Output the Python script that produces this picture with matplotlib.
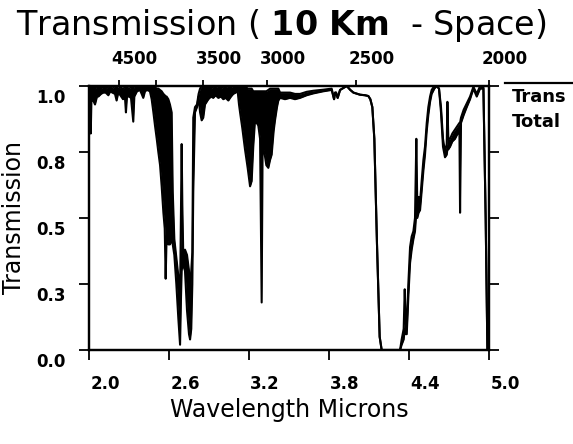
import matplotlib
matplotlib.use("Agg")
import matplotlib.pyplot as plt
from matplotlib.lines import Line2D
from matplotlib.transforms import ScaledTranslation

plt.rcParams['font.family'] = 'DejaVu Sans'
plt.rcParams['mathtext.fontset'] = 'dejavusans'

# wavelength (microns), transmission line, lower edge of the dense line band
wl = [2.000, 2.008, 2.013, 2.018, 2.028, 2.045, 2.060, 2.070, 2.090, 2.107,
      2.125, 2.145, 2.160, 2.175, 2.195, 2.207, 2.220, 2.235, 2.255, 2.270,
      2.277, 2.285, 2.300, 2.315, 2.332, 2.340, 2.360, 2.382, 2.395, 2.407,
      2.420, 2.435, 2.457,
      2.470, 2.483, 2.495, 2.508, 2.520, 2.533, 2.545, 2.558, 2.568, 2.575,
      2.582, 2.595, 2.607, 2.620, 2.628, 2.640, 2.655, 2.670, 2.683, 2.690,
      2.695, 2.700, 2.707, 2.720, 2.735, 2.750, 2.758, 2.767, 2.775, 2.782,
      2.795, 2.810, 2.822,
      2.833, 2.845, 2.857, 2.870, 2.895, 2.915, 2.932, 2.950, 2.970, 2.990,
      3.007, 3.025, 3.045, 3.065, 3.082, 3.100, 3.115,
      3.125, 3.133, 3.150, 3.170, 3.190, 3.208, 3.220, 3.232, 3.245, 3.258,
      3.270, 3.283, 3.295, 3.302, 3.315, 3.330, 3.345, 3.358, 3.370, 3.385,
      3.395, 3.410, 3.420,
      3.433, 3.470, 3.508, 3.545, 3.583, 3.633, 3.683, 3.720, 3.758, 3.820,
      3.838, 3.846, 3.853, 3.865, 3.883, 3.933, 3.960, 3.983, 4.033, 4.070,
      4.095, 4.110, 4.125, 4.140, 4.160, 4.180, 4.195,
      4.333,
      4.345, 4.360, 4.368, 4.376, 4.383, 4.395, 4.408, 4.420, 4.433, 4.445,
      4.455, 4.462, 4.472, 4.483, 4.495, 4.508, 4.520, 4.533, 4.545, 4.558,
      4.570, 4.590, 4.608, 4.625, 4.640, 4.655, 4.670, 4.683, 4.688, 4.695,
      4.708, 4.725, 4.745, 4.765, 4.778, 4.783, 4.790, 4.810, 4.833, 4.858,
      4.883, 4.908, 4.933, 4.958, 4.975, 4.988]

trans = [1.00, 1.00, 0.99, 1.00, 1.00, 0.99, 1.00, 1.00, 0.99, 1.00,
         0.99, 1.00, 0.995, 0.99, 1.00, 0.995, 0.99, 0.995, 0.99, 0.995,
         0.99, 0.995, 0.99, 0.995, 0.99, 1.00, 1.00, 1.00, 1.00, 1.00,
         1.00, 1.00, 1.00,
         1.00, 1.00, 0.995, 0.99, 0.99, 0.985, 0.98, 0.97, 0.965, 0.96,
         0.96, 0.95, 0.93, 0.90, 0.60, 0.42, 0.35, 0.28, 0.20, 0.55,
         0.78, 0.55, 0.36, 0.38, 0.36, 0.30, 0.20, 0.30, 0.37, 0.88,
         0.92, 0.93, 0.97,
         0.99, 1.00, 1.00, 1.00, 1.00, 0.99, 1.00, 0.995, 1.00, 0.99,
         1.00, 0.995, 1.00, 0.995, 1.00, 1.00, 1.00,
         1.00, 1.00, 1.00, 1.00, 0.99, 0.99, 0.99, 0.98, 0.98, 0.98,
         0.98, 0.98, 0.98, 0.98, 0.98, 0.98, 0.985, 0.99, 0.99, 0.99,
         0.99, 0.99, 0.99,
         0.975, 0.975, 0.975, 0.97, 0.97, 0.978, 0.982, 0.984, 0.986, 0.99,
         0.95, 0.975, 0.975, 0.955, 0.985, 1.00, 0.985, 0.975, 0.967, 0.965,
         0.962, 0.95, 0.92, 0.80, 0.40, 0.05, 0.00,
         0.00,
         0.04, 0.08, 0.23, 0.10, 0.08, 0.25, 0.39, 0.43, 0.45, 0.50,
         0.80, 0.55, 0.58, 0.56, 0.64, 0.72, 0.77, 0.86, 0.92, 0.96,
         0.985, 1.00, 1.00, 0.99, 0.92, 0.80, 0.75, 0.78, 0.94, 0.80,
         0.80, 0.82, 0.835, 0.85, 0.86, 0.86, 0.88, 0.91, 0.934, 0.96,
         0.997, 0.97, 1.00, 1.00, 0.50, 0.00]

trans_lo = [0.96, 0.93, 0.82, 0.94, 0.95, 0.93, 0.96, 0.96, 0.97, 0.975,
            0.975, 0.965, 0.98, 0.975, 0.97, 0.945, 0.975, 0.965, 0.95, 0.955,
            0.90, 0.96, 0.96, 0.955, 0.865, 0.96, 0.98, 0.985, 0.97, 0.955,
            0.98, 0.985, 0.98,
            0.95, 0.90, 0.85, 0.80, 0.75, 0.70, 0.62, 0.52, 0.46, 0.27,
            0.43, 0.40, 0.40, 0.42, 0.40, 0.36, 0.25, 0.12, 0.02, 0.20,
            0.30, 0.32, 0.32, 0.30, 0.15, 0.06, 0.04, 0.08, 0.25, 0.60,
            0.90, 0.92, 0.96,
            0.90, 0.87, 0.88, 0.93, 0.95, 0.96, 0.955, 0.965, 0.955, 0.96,
            0.95, 0.955, 0.945, 0.96, 0.97, 0.975, 0.98,
            0.93, 0.90, 0.84, 0.76, 0.69, 0.62, 0.64, 0.77, 0.87, 0.86,
            0.85, 0.80, 0.18, 0.77, 0.75, 0.70, 0.69, 0.72, 0.74, 0.83,
            0.87, 0.92, 0.945,
            0.955, 0.95, 0.955, 0.95, 0.955, 0.965, 0.972, 0.976, 0.98, 0.985,
            0.95, 0.975, 0.975, 0.955, 0.985, 1.00, 0.985, 0.975, 0.967, 0.965,
            0.962, 0.95, 0.92, 0.80, 0.40, 0.05, 0.00,
            0.00,
            0.02, 0.04, 0.08, 0.06, 0.06, 0.20, 0.33, 0.38, 0.42, 0.45,
            0.52, 0.50, 0.52, 0.53, 0.60, 0.68, 0.74, 0.83, 0.89, 0.94,
            0.97, 0.99, 1.00, 0.99, 0.90, 0.77, 0.73, 0.74, 0.76, 0.76,
            0.77, 0.79, 0.80, 0.82, 0.84, 0.52, 0.86, 0.89, 0.92, 0.95,
            0.99, 0.96, 0.99, 0.99, 0.50, 0.00]

x_ticks = [2.0, 2.6, 3.2, 3.8, 4.4, 5.0]
x_labels = ['2.0', '2.6', '3.2', '3.8', '4.4', '5.0']
y_ticks = [0.0, 0.25, 0.5, 0.75, 1.0]
y_labels = ['0.0', '0.3', '0.5', '0.8', '1.0']
wn_ticks = [4500, 4000, 3500, 3000, 2500, 2000]
wn_labels = ['4500', '', '3500', '3000', '2500', '2000']

fig = plt.figure(figsize=(5.73, 4.44), dpi=100)
ax = fig.add_axes([89/573, 1 - 350/444, 400/573, 264/444])
top = ax.twiny()

ax.fill_between(wl, trans_lo, trans, color='black', lw=0)
ax.plot(wl, trans, color='black', lw=1.5)
ax.plot(wl, trans_lo, color='black', lw=1.5)

ax.set_xlim(2.0, 5.0)
ax.set_ylim(0.0, 1.0)
top.set_xlim(2.0, 5.0)

for a in (ax, top):
    for s in a.spines.values():
        s.set_linewidth(1.6)

ax.set_xticks(x_ticks, x_labels, fontweight='bold')
ax.set_yticks(y_ticks, y_labels, fontweight='bold')
top.set_xticks([1e4 / w for w in wn_ticks], wn_labels, fontweight='bold')

ax.tick_params(axis='both', direction='out', length=7, width=1.3, labelsize=12)
ax.tick_params(axis='y', right=True, pad=10)
ax.tick_params(axis='x', pad=11)
top.tick_params(axis='x', direction='out', length=4, width=1.3, labelsize=12, pad=9)

# labels in the scan sit off their ticks
shift_x = ScaledTranslation(16/100, 0, fig.dpi_scale_trans)
shift_y = ScaledTranslation(0, -10/100, fig.dpi_scale_trans)
for lbl in ax.get_xticklabels() + top.get_xticklabels():
    lbl.set_transform(lbl.get_transform() + shift_x)
for lbl in ax.get_yticklabels():
    lbl.set_transform(lbl.get_transform() + shift_y)

fig.text(281/573, 1 - 26/444, r"Transmission ( $\mathbf{10\ Km}$  - Space)",
         ha='center', va='center', fontsize=24)
fig.text(289/573, 1 - 410/444, "Wavelength Microns", ha='center', va='center', fontsize=17)
fig.text(14/573, 1 - 218/444, "Transmission", rotation=90, ha='center', va='center', fontsize=17)

# legend drawn by hand like the original
fig.add_artist(Line2D([505/573, 1.0], [1 - 83/444] * 2, transform=fig.transFigure,
                      color='black', lw=1.6))
fig.text(512/573, 1 - 97/444, "Trans", ha='left', va='center', fontsize=13, fontweight='bold')
fig.text(512/573, 1 - 122/444, "Total", ha='left', va='center', fontsize=13, fontweight='bold')

fig.savefig("out.png", dpi=100)
